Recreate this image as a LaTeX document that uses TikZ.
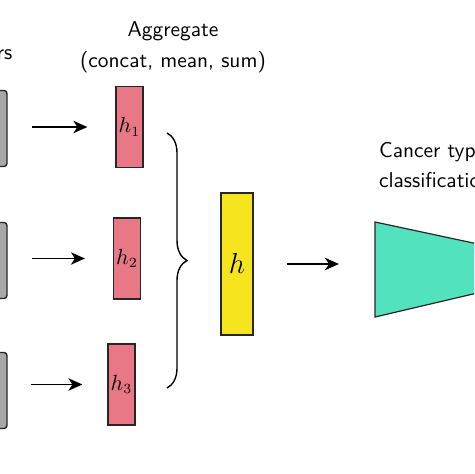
\documentclass[tikz,border=0pt]{standalone}
\usepackage{amsmath}
\usepackage{xcolor}
\usepackage{tikz}
\usetikzlibrary{arrows.meta, decorations.pathreplacing}

\definecolor{slabgray}{RGB}{168,168,168}
\definecolor{hpink}{RGB}{232,120,133}
\definecolor{hyellow}{RGB}{246,228,30}
\definecolor{clfteal}{RGB}{82,226,190}

\begin{document}
\begin{tikzpicture}[
  x=0.5pt, y=-0.5pt,
  every node/.style={font=\sffamily\fontsize{10.7}{12.8}\selectfont},
  label/.style={align=center},
  slab/.style={draw=black!85,fill=slabgray,rounded corners=1.5pt,line width=0.7pt,minimum width=13pt,minimum height=38pt,inner sep=0pt},
  vec/.style={draw=black!85,fill=hpink,line width=0.6pt,minimum width=13.5pt,minimum height=40.5pt,inner sep=0pt},
  action/.style={-{Stealth[length=7pt,width=6.2pt,inset=2pt]},line width=0.9pt}
]
\useasboundingbox (0,0) rectangle (474,474);
\clip (0,0) rectangle (474,474);
% inputs
\node[anchor=east] (enc) at (19.5,52) {Encoders};
\node[slab] (s1) at (-6,128.5) {};
\node[slab] (s2) at (-6,260.5) {};
\node[slab] (s3) at (-6,390.5) {};
% embeddings
\node[label] (agg) at (173,47.5) {Aggregate\\[2.7pt](concat, mean, sum)};
\node[vec] (h1) at (129.5,127) {$h_1$};
\node[vec] (h2) at (127,258.5) {$h_2$};
\node[vec] (h3) at (121.5,384.5) {$h_3$};
\draw[action,shorten <=12pt,shorten >=14pt] (s1.east |- h1.west) -- (h1.west);
\draw[action,shorten <=12pt,shorten >=14pt] (s2.east |- h2.west) -- (h2.west);
\draw[action,shorten <=11.5pt,shorten >=12.5pt] (s3.east |- h3.west) -- (h3.west);
% aggregate
\coordinate (bt) at (167,133);
\coordinate (bb) at (167,388);
\draw[line width=0.7pt,decorate,decoration={brace,amplitude=10pt}] (bt) -- (bb);
\node[draw=black!85,fill=hyellow,line width=0.6pt,minimum width=16pt,minimum height=71pt,inner sep=0pt,font=\fontsize{13.5}{15}\selectfont] (h) at (237,264) {$h$};
% classifier
\node[label,align=left,anchor=west] (ct) at (372,165) {Cancer type\\[2.2pt]classification};
\draw[draw=black!85,fill=clfteal,line width=0.6pt] (375,222) -- (520,253) -- (520,283) -- (375,317) -- cycle;
\coordinate (clf) at (375,264);
\draw[action,shorten <=16.5pt,shorten >=18pt] (h.east) -- (clf);
\end{tikzpicture}
\end{document}
